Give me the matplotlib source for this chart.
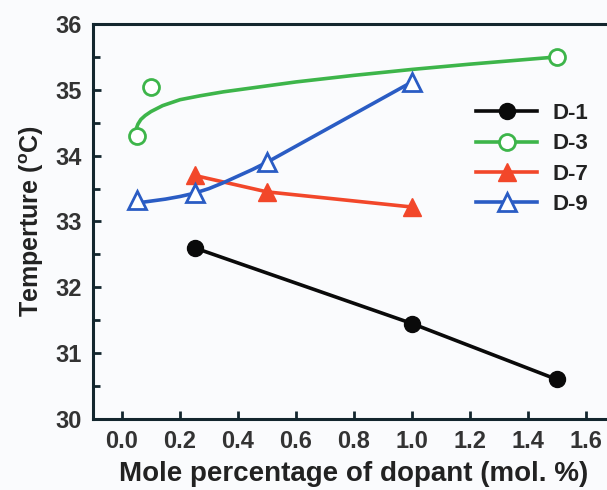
import matplotlib
matplotlib.use("Agg")
import matplotlib.pyplot as plt
from matplotlib.ticker import MultipleLocator
from matplotlib.lines import Line2D

plt.rcParams['font.family'] = ['Liberation Sans', 'DejaVu Sans']

# Data
d1_x = [0.25, 1.0, 1.5]
d1_y = [32.6, 31.45, 30.6]

d3_x = [0.05, 0.10, 1.5]
d3_y = [34.3, 35.05, 35.5]
# fitted curve for D-3
d3_fit_x = [0.05, 0.055, 0.065, 0.08, 0.10, 0.14, 0.20, 0.27, 0.35, 0.45, 0.60, 0.80, 1.00, 1.20, 1.50]
d3_fit_y = [34.42, 34.48, 34.55, 34.61, 34.67, 34.76, 34.85, 34.91, 34.97, 35.03, 35.12, 35.22, 35.31, 35.39, 35.50]

d7_x = [0.25, 0.5, 1.0]
d7_y = [33.7, 33.45, 33.22]

d9_x = [0.05, 0.25, 0.5, 1.0]
d9_y = [33.32, 33.43, 33.9, 35.12]
d9_fit_x = [0.05, 0.10, 0.15, 0.20, 0.25, 0.30, 0.35, 0.40, 0.45, 0.5, 1.0]
d9_fit_y = [33.28, 33.31, 33.34, 33.38, 33.43, 33.50, 33.59, 33.69, 33.79, 33.90, 35.12]

xticks = [0.0, 0.2, 0.4, 0.6, 0.8, 1.0, 1.2, 1.4, 1.6]
yticks = [30, 31, 32, 33, 34, 35, 36]

c_black = '#0a0a0a'
c_green = '#3db54a'
c_red = '#f2472a'
c_blue = '#2a5cc4'

fig = plt.figure(figsize=(6.07, 4.90), dpi=100)
fig.patch.set_facecolor('#fafbfd')
ax = fig.add_axes([93/607, (490-419)/490, (615-93)/607, (419-24)/490])
ax.set_facecolor('#fafbfd')

lw = 2.6
ax.plot(d1_x, d1_y, '-', color=c_black, lw=lw, marker='o', ms=11.5, mfc=c_black, mec=c_black)
ax.plot(d3_fit_x, d3_fit_y, '-', color=c_green, lw=lw)
ax.plot(d3_x, d3_y, 'o', color=c_green, ms=11.5, mfc='white', mec=c_green, mew=2)
ax.plot(d7_x, d7_y, '-', color=c_red, lw=lw, marker='^', ms=12.5, mfc=c_red, mec=c_red)
ax.plot(d9_fit_x, d9_fit_y, '-', color=c_blue, lw=lw)
ax.plot(d9_x, d9_y, '^', color=c_blue, ms=12.5, mfc='white', mec=c_blue, mew=2)

handles = [
    Line2D([], [], color=c_black, lw=lw, marker='o', ms=11.5, mfc=c_black, mec=c_black),
    Line2D([], [], color=c_green, lw=lw, marker='o', ms=11.5, mfc='white', mec=c_green, mew=2),
    Line2D([], [], color=c_red, lw=lw, marker='^', ms=12.5, mfc=c_red, mec=c_red),
    Line2D([], [], color=c_blue, lw=lw, marker='^', ms=12.5, mfc='white', mec=c_blue, mew=2),
]
leg = ax.legend(handles, ['D-1', 'D-3', 'D-7', 'D-9'], loc='upper left',
                bbox_to_anchor=((456-93)/(615-93), (419-83)/(419-24)),
                frameon=False, prop={'weight': 'bold', 'size': 16},
                handlelength=2.75, labelspacing=0.42, handletextpad=0.7)
for t in leg.get_texts():
    t.set_color('#222222')

ax.set_xlim(-0.1, 1.7)
ax.set_ylim(30, 36)
ax.set_xticks(xticks)
ax.set_xticklabels([f'{v:.1f}' for v in xticks])
ax.set_yticks(yticks)
ax.yaxis.set_minor_locator(MultipleLocator(0.5))

spine_c = '#13262e'
for s in ax.spines.values():
    s.set_color(spine_c)
    s.set_linewidth(2.2)
ax.tick_params(axis='both', which='major', direction='in', length=6, width=2, color=spine_c,
               labelsize=17, labelcolor='#333333', pad=8)
ax.tick_params(axis='y', which='minor', direction='in', length=5, width=2, color=spine_c)
ax.tick_params(axis='x', which='major', top=False)
for lab in ax.get_xticklabels() + ax.get_yticklabels():
    lab.set_fontweight('bold')

ax.set_xlabel('Mole percentage of dopant (mol. %)', fontsize=20, fontweight='bold', color='#222222', labelpad=6)
ax.set_ylabel(r'Temperture ($^{\mathregular{o}}$C)', fontsize=18, fontweight='bold', color='#222222', labelpad=7)

fig.savefig('out.png', dpi=100, facecolor=fig.get_facecolor())
